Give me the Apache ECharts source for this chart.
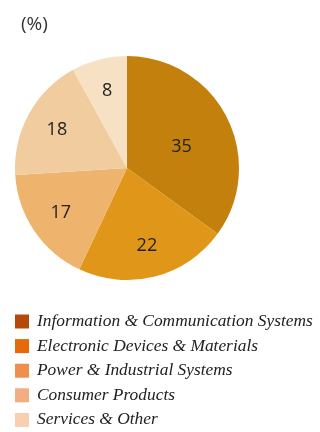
<!DOCTYPE html>
<html>
<head>
<meta charset="utf-8">
<script src="https://cdn.jsdelivr.net/npm/echarts@6/dist/echarts.min.js"></script>
<style>
html,body{margin:0;padding:0;background:#fff;}
#c{width:320px;height:432px;}
</style>
</head>
<body>
<div id="c"></div>
<script>
const categories = ['Information & Communication Systems','Electronic Devices & Materials','Power & Industrial Systems','Consumer Products','Services & Other'];
const values = [35, 22, 17, 18, 8];
const pieColors = ['#C4800C','#E09618','#EEB46E','#F1CC9E','#F7E1C5'];
const legendColors = ['#B34A08','#E8680C','#EE8F50','#F2AD80','#F7CFB2'];

const chart = echarts.init(document.getElementById('c'));
const center = [127, 168];
const labelFont = {fontFamily:'Open Sans', fontSize:18, color:'#222'};

chart.setOption({
  animation:false,
  title:{text:'(%)', left:21, top:15, padding:0, textStyle:{fontFamily:'Open Sans', fontSize:19, fontWeight:'normal', color:'#333'}},
  legend:{
    orient:'vertical', left:15, top:313, padding:0,
    itemWidth:14, itemHeight:14, itemGap:7.6,
    icon:'rect',
    textStyle:{fontFamily:'Liberation Serif', fontStyle:'italic', fontSize:17.4, color:'#222', padding:[0,0,0,3]},
    data: categories.map((n,i)=>({name:n, itemStyle:{color:legendColors[i]}}))
  },
  series:[
    {
      type:'pie', center:center, radius:[0,112], startAngle:90, clockwise:true,
      silent:true,
      label:{show:false},
      labelLine:{show:false},
      data: categories.map((n,i)=>({name:n, value:values[i], itemStyle:{color:pieColors[i]},
        label: i===0 ? Object.assign({show:true, position:'inside', formatter:'{c}', offset:[2,6]}, labelFont) : {show:false}}))
    },
    {
      type:'pie', center:center, radius:[0,154], startAngle:90, clockwise:true,
      silent:true, z:3,
      itemStyle:{color:'rgba(0,0,0,0)', borderWidth:0},
      labelLine:{show:false},
      data: categories.map((n,i)=>({name:n, value:values[i], itemStyle:{color:'rgba(0,0,0,0)'},
        label: i===0 ? {show:false} : Object.assign({show:true, position:'inside', formatter:'{c}'}, labelFont)}))
    }
  ]
});
</script>
</body>
</html>
